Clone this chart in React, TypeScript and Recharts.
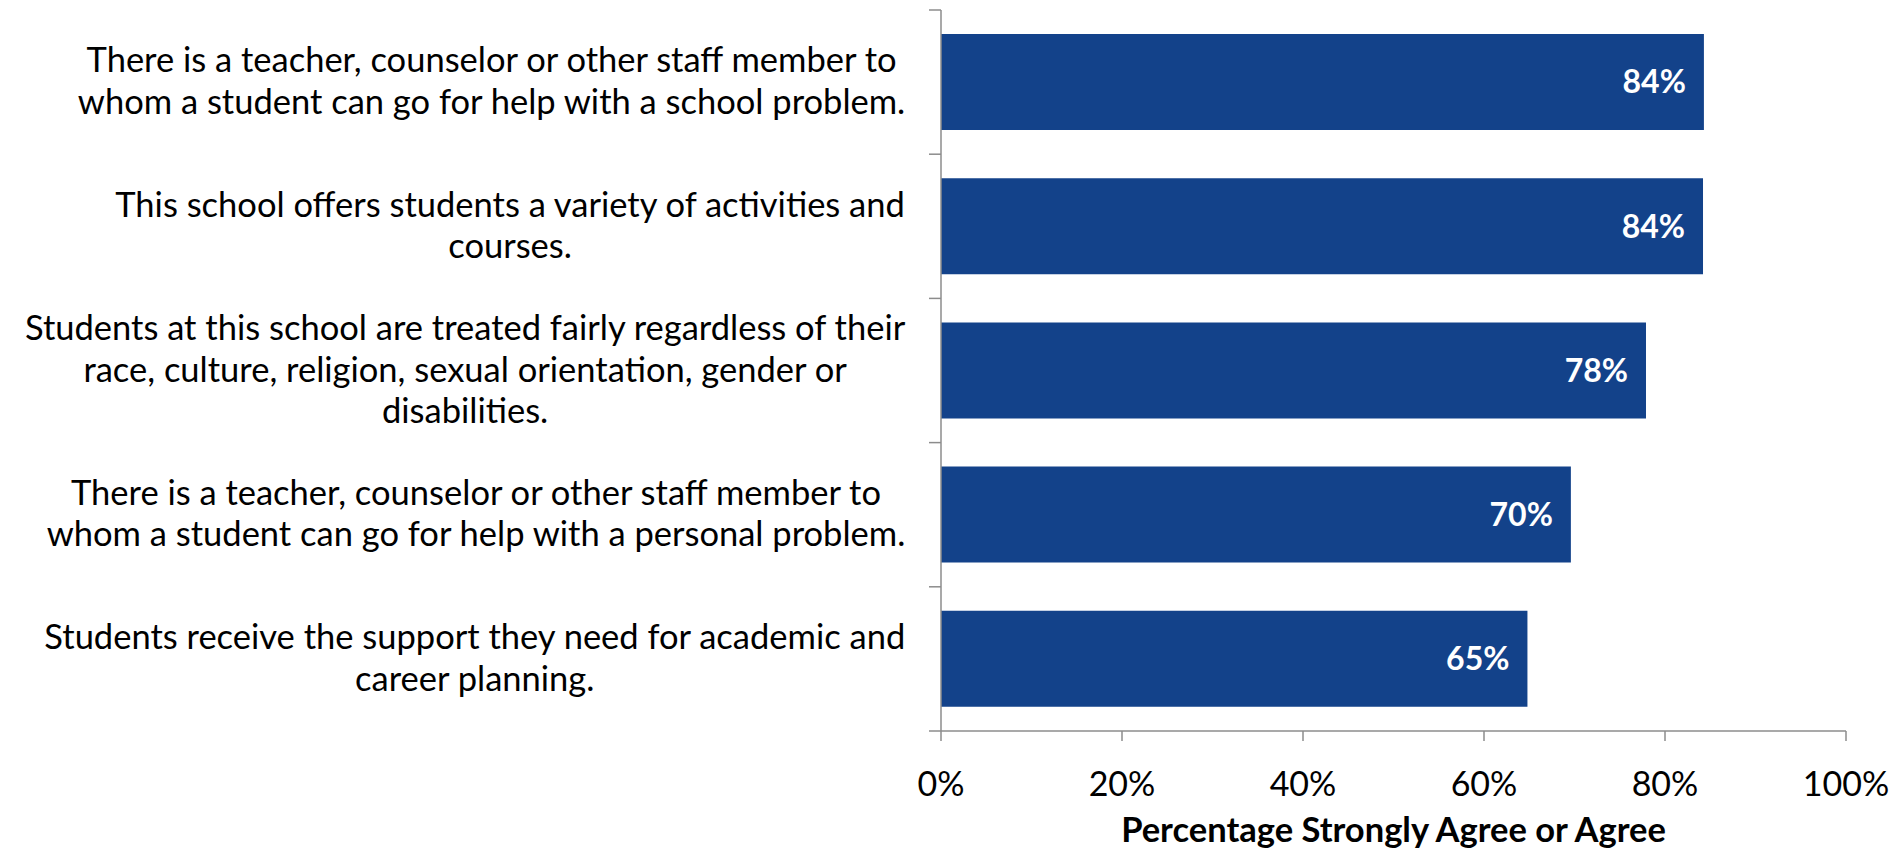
import React from 'react';
import { BarChart, Bar, XAxis, YAxis, LabelList } from 'recharts';

const statements = [
  'There is a teacher, counselor or other staff member to\nwhom a student can go for help with a school problem.',
  'This school offers students a variety of activities and\ncourses.',
  'Students at this school are treated fairly regardless of their\nrace, culture, religion, sexual orientation, gender or\ndisabilities.',
  'There is a teacher, counselor or other staff member to\nwhom a student can go for help with a personal problem.',
  'Students receive the support they need for academic and\ncareer planning.',
];
const agreePct = [84.3, 84.2, 77.9, 69.6, 64.8];
const valueLabels = ['84%', '84%', '78%', '70%', '65%'];
const xTicks = [0, 20, 40, 60, 80, 100];

const data = statements.map((statement, i) => ({
  statement,
  pct: agreePct[i],
  label: valueLabels[i],
}));

const FONT = 'Lato, "Open Sans", sans-serif';
const AXIS_COLOR = '#8c8c8c';
const Y_AXIS_WIDTH = 941;
const LABEL_SIZE = 34.5;
const LINE_HEIGHT = 41.5;

let ctx: CanvasRenderingContext2D | null = null;
const measure = (text: string) => {
  if (!ctx) ctx = document.createElement('canvas').getContext('2d');
  if (!ctx) return text.length * LABEL_SIZE * 0.45;
  ctx.font = `${LABEL_SIZE}px ${FONT}`;
  return ctx.measureText(text).width;
};

// category label block: lines centred on each other, block right-aligned to the axis
const StatementTick = (props: any) => {
  const { y, payload, index, visibleTicksCount } = props;
  const lines = String(payload.value).split('\n');
  const half = payload.offset || 72;
  const maxW = Math.max(...lines.map(measure));
  const cx = Y_AXIS_WIDTH - 35 - maxW / 2;
  const n = lines.length;
  const last = index === (visibleTicksCount ?? data.length) - 1;
  return (
    <g>
      <line x1={Y_AXIS_WIDTH - 12} x2={Y_AXIS_WIDTH} y1={y - half} y2={y - half} stroke={AXIS_COLOR} strokeWidth={1.5} />
      {last && (
        <line x1={Y_AXIS_WIDTH - 12} x2={Y_AXIS_WIDTH} y1={y + half} y2={y + half} stroke={AXIS_COLOR} strokeWidth={1.5} />
      )}
      <text textAnchor="middle" fontFamily={FONT} fontSize={LABEL_SIZE} fill="#000">
        {lines.map((l, i) => (
          <tspan key={i} x={cx} y={y + (i - (n - 1) / 2) * LINE_HEIGHT + 11}>
            {l}
          </tspan>
        ))}
      </text>
    </g>
  );
};

const App = () => {
  return (
    <div style={{ position: 'absolute', left: 0, top: 0, background: '#fff' }}>
      <BarChart
        width={1900}
        height={849}
        data={data}
        layout="vertical"
        margin={{ top: 10, right: 54, bottom: 0, left: 0 }}
      >
        <XAxis
          type="number"
          dataKey="pct"
          domain={[0, 100]}
          ticks={xTicks}
          tickFormatter={(v) => `${v}%`}
          height={118}
          tickSize={10}
          tickMargin={31}
          stroke={AXIS_COLOR}
          strokeWidth={1.5}
          tick={{ fill: '#000', fontSize: 34, fontFamily: FONT }}
          label={{
            value: 'Percentage Strongly Agree or Agree',
            position: 'insideBottom',
            offset: 7,
            fill: '#000',
            fontSize: 34.5,
            fontWeight: 'bold',
            fontFamily: FONT,
          }}
        />
        <YAxis
          type="category"
          dataKey="statement"
          width={Y_AXIS_WIDTH}
          tickLine={false}
          stroke={AXIS_COLOR}
          strokeWidth={1.5}
          interval={0}
          tick={<StatementTick />}
        />
        <Bar dataKey="pct" fill="#13428a" barSize={96} isAnimationActive={false}>
          <LabelList
            dataKey="label"
            position="insideRight"
            offset={18}
            fill="#fff"
            fontSize={32}
            fontWeight="bold"
            fontFamily={FONT}
          />
        </Bar>
      </BarChart>
    </div>
  );
};

export default App;
